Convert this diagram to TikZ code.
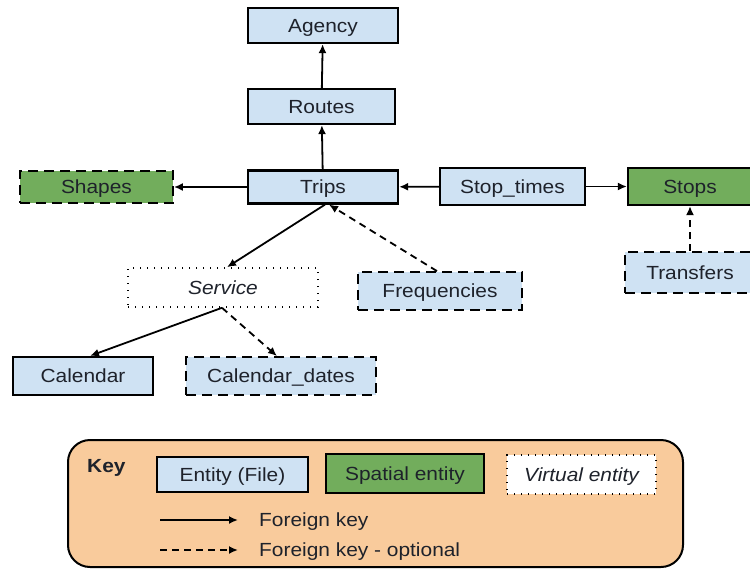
\documentclass[tikz,border=0pt]{standalone}
\usepackage{fontspec}
\setmainfont{Liberation Sans}[FakeStretch=1.1]
\usetikzlibrary{arrows.meta}
\definecolor{entblue}{HTML}{CFE2F3}
\definecolor{spgreen}{HTML}{72AD5C}
\definecolor{keypeach}{HTML}{F9CB9C}
\definecolor{txt}{HTML}{1E222B}
\newcommand{\diagfont}{\fontsize{19}{21}\selectfont}
\tikzset{
  box/.style={draw=black, fill=entblue, line width=2.2pt, rectangle, inner sep=0pt,
    minimum width=#1, text=txt, font=\diagfont, text height=13.6pt, text depth=0pt},
  box/.default=150pt,
  optbox/.style={box=#1, line width=1.8pt, dash pattern=on 10pt off 6pt},
  optbox/.default=150pt,
  greenbox/.style={box=#1, fill=spgreen},
  greenbox/.default=150pt,
  virtbox/.style={box=#1, fill=white, line width=1.6pt, dash pattern=on 1.4pt off 5.6pt,
    font=\diagfont\itshape},
  virtbox/.default=150pt,
  fk/.style={line width=1.8pt, -{Latex[length=9pt,width=8pt]}},
  fkopt/.style={fk, dash pattern=on 7pt off 5pt},
  lbl/.style={anchor=west, text=txt, font=\diagfont, inner sep=0pt, text height=13.6pt, text depth=0pt},
}
\begin{document}
\begin{tikzpicture}[x=1pt, y=-1pt]
\clip (0,0) rectangle (750,573);
\useasboundingbox (0,0) rectangle (750,573);

% entities
\node[box=150pt, minimum height=35pt] (agency) at (323,25.5) {Agency};
\node[box=147pt, minimum height=35pt] (routes) at (321.5,106.5) {Routes};
\node[box=150pt, minimum height=33pt] (trips) at (323,187) {Trips};
\node[greenbox=153pt, minimum height=32pt, line width=1.8pt, dash pattern=on 10pt off 6pt] (shapes) at (96.5,187) {Shapes};
\node[box=145pt, minimum height=37pt] (stoptimes) at (512.5,186.5) {Stop\_times};
\node[greenbox=124pt, minimum height=37pt] (stops) at (690,186.5) {Stops};
\node[optbox=130pt, minimum height=41pt] (transfers) at (690,272.5) {Transfers};
\node[optbox=164pt, minimum height=38pt] (frequencies) at (440,291) {Frequencies};
\node[virtbox=190pt, minimum height=39pt] (service) at (223,287.5) {Service};
\node[box=140pt, minimum height=38pt] (calendar) at (83,376) {Calendar};
\node[optbox=190pt, minimum height=38pt] (caldates) at (281,376) {Calendar\_dates};

% foreign keys
\draw[fk] (routes) -- (agency);
\draw[fk] (trips) -- (routes);
\draw[fk] (trips) -- (shapes);
\draw[fk] (stoptimes) -- (trips);
\draw[fk] (stoptimes) -- (stops);
\draw[fkopt] (transfers) -- (stops);
\draw[fk] ([xshift=2pt]trips.south) -- ([xshift=4pt]service.north);
\draw[fkopt] ([xshift=-3pt]frequencies.north) -- ([xshift=6pt]trips.south);
\draw[fk] ([xshift=-1pt]service.south) -- ([xshift=7pt]calendar.north);
\draw[fkopt] ([xshift=-1pt]service.south) -- ([xshift=-4pt]caldates.north);

% key panel
\draw[line width=2pt, fill=keypeach, rounded corners=22pt] (68,440) rectangle (683,567);
\node[lbl, font=\diagfont\bfseries] (keytitle) at (87,466) {Key};
\node[box=151pt, minimum height=35pt] (kentity) at (232.5,474.5) {Entity (File)};
\node[greenbox=158pt, minimum height=39pt] (kspatial) at (405,473.5) {Spatial entity};
\node[virtbox=149pt, minimum height=39pt] (kvirtual) at (581.5,474.5) {Virtual entity};
\coordinate (fka) at (160,520);
\coordinate (fkb) at (238,520);
\coordinate (foa) at (160,550);
\coordinate (fob) at (238,550);
\draw[fk] (fka) -- (fkb);
\draw[fkopt] (foa) -- (fob);
\node[lbl] (fklbl) at (259,520) {Foreign key};
\node[lbl] (folbl) at (259,550) {Foreign key - optional};
\end{tikzpicture}
\end{document}
